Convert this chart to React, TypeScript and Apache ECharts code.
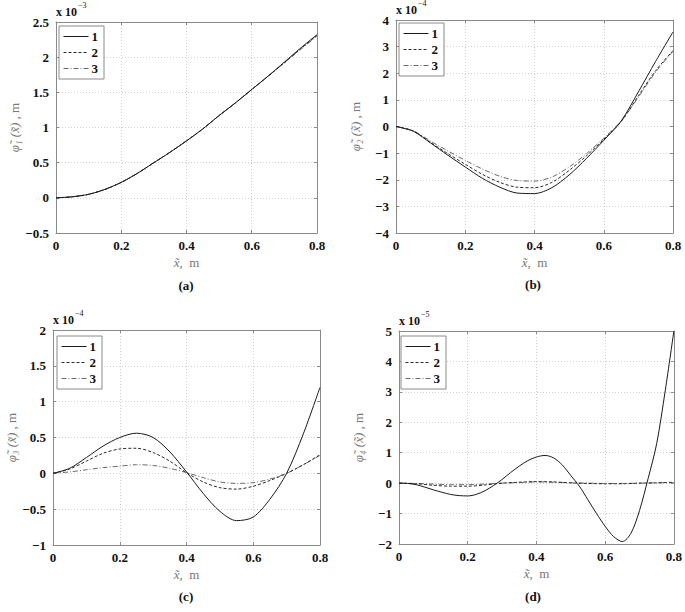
import React, { useEffect, useRef } from "react";
import * as echarts from "echarts";

const X05 = [0, 0.05, 0.1, 0.15, 0.2, 0.25, 0.3, 0.35, 0.4, 0.45, 0.5, 0.55, 0.6, 0.65, 0.7, 0.75, 0.8];
const X025 = [0, 0.025, 0.05, 0.075, 0.1, 0.125, 0.15, 0.175, 0.2, 0.225, 0.25, 0.275, 0.3, 0.325, 0.35, 0.375, 0.4, 0.425, 0.45, 0.475, 0.5, 0.525, 0.55, 0.575, 0.6, 0.625, 0.65, 0.675, 0.7, 0.725, 0.75, 0.775, 0.8];

// panel (a), x 10^-3
const A1 = [0, 0.015, 0.05, 0.12, 0.22, 0.35, 0.5, 0.65, 0.81, 0.98, 1.17, 1.35, 1.54, 1.73, 1.93, 2.13, 2.32];
const A2 = [0, 0.015, 0.05, 0.12, 0.22, 0.35, 0.5, 0.65, 0.81, 0.98, 1.17, 1.35, 1.54, 1.73, 1.92, 2.12, 2.31];
const A3 = [0, 0.015, 0.05, 0.12, 0.22, 0.35, 0.5, 0.65, 0.81, 0.98, 1.17, 1.35, 1.54, 1.73, 1.92, 2.11, 2.3];
// panel (b), x 10^-4
const B1 = [0, -0.18, -0.62, -1.08, -1.52, -1.95, -2.28, -2.5, -2.52, -2.3, -1.82, -1.2, -0.52, 0.2, 1.3, 2.45, 3.55];
const B2 = [0, -0.17, -0.6, -1.02, -1.42, -1.8, -2.1, -2.28, -2.3, -2.1, -1.65, -1.1, -0.48, 0.18, 1.15, 2.1, 2.85];
const B3 = [0, -0.16, -0.55, -0.92, -1.27, -1.6, -1.87, -2.03, -2.05, -1.9, -1.52, -1.02, -0.44, 0.2, 1.1, 2.05, 2.82];
// panel (c), x 10^-4
const C1 = [0, 0.07, 0.22, 0.38, 0.5, 0.56, 0.5, 0.3, 0.02, -0.28, -0.53, -0.66, -0.61, -0.36, 0.0, 0.55, 1.2];
const C2 = [0, 0.06, 0.17, 0.28, 0.34, 0.35, 0.29, 0.17, 0.01, -0.12, -0.2, -0.22, -0.18, -0.1, 0.0, 0.12, 0.26];
const C3 = [0, 0.02, 0.05, 0.08, 0.1, 0.12, 0.11, 0.07, 0.01, -0.06, -0.12, -0.14, -0.13, -0.08, 0.0, 0.12, 0.25];
// panel (d), x 10^-5
const D1 = [0, -0.01, -0.05, -0.13, -0.22, -0.3, -0.37, -0.41, -0.42, -0.37, -0.25, -0.08, 0.12, 0.35, 0.56, 0.74, 0.86, 0.91, 0.83, 0.6, 0.25, -0.1, -0.55, -1.0, -1.42, -1.76, -1.92, -1.65, -0.9, 0.15, 1.3, 3.05, 5.0];
const D2 = [0, -0.02, -0.07, -0.1, -0.1, -0.06, 0, 0.03, 0.05, 0.04, 0.01, -0.01, -0.02, -0.02, 0, 0.01, 0.03];
const D3 = [0, -0.01, -0.03, -0.05, -0.05, -0.03, 0, 0.02, 0.04, 0.03, 0.01, 0, -0.01, -0.01, 0, 0.01, 0.02];

const SERIES_NAMES = ["1", "2", "3"];
const X_TICKS = { min: 0, max: 0.8, interval: 0.2 };

const FONT = "Liberation Serif";

type Panel = {
  grid: { left: number; top: number; width: number; height: number };
  yMin: number;
  yMax: number;
  yInt: number;
  exp: string;
  sub: string;
  caption: string;
  captionPos: [number, number];
  legendPos: [number, number];
  data: [number[], number[]][];
};

const panels: Panel[] = [
  {
    grid: { left: 56, top: 22, width: 261, height: 211 },
    yMin: -0.5, yMax: 2.5, yInt: 0.5, exp: "−3", sub: "₁", caption: "(a)",
    captionPos: [186, 285], legendPos: [59, 26],
    data: [[X05, A1], [X05, A2], [X05, A3]],
  },
  {
    grid: { left: 396, top: 20, width: 277, height: 213 },
    yMin: -4, yMax: 4, yInt: 1, exp: "−4", sub: "₂", caption: "(b)",
    captionPos: [533, 284], legendPos: [399, 23],
    data: [[X05, B1], [X05, B2], [X05, B3]],
  },
  {
    grid: { left: 53, top: 330, width: 267, height: 215 },
    yMin: -1, yMax: 2, yInt: 0.5, exp: "−4", sub: "₃", caption: "(c)",
    captionPos: [186, 596], legendPos: [57, 336],
    data: [[X05, C1], [X05, C2], [X05, C3]],
  },
  {
    grid: { left: 399, top: 331, width: 276, height: 213 },
    yMin: -2, yMax: 5, yInt: 1, exp: "−5", sub: "₄", caption: "(d)",
    captionPos: [533, 596], legendPos: [401, 336],
    data: [[X025, D1], [X05, D2], [X05, D3]],
  },
];

const LINE_STYLES = [
  { color: "#1a1a1a", width: 1, type: "solid" as any },
  { color: "#2a2a2a", width: 1, type: [3, 2] as any },
  { color: "#6a6a6a", width: 1, type: [5, 2, 1, 2] as any },
];

const fmtNum = (v: number) => String(+v.toFixed(2)).replace("-", "−");

export default function App() {
  const ref = useRef<HTMLDivElement>(null);
  useEffect(() => {
    document.body.style.margin = "0";
    if (!ref.current) return;
    const chart = echarts.init(ref.current, null, { renderer: "svg" });

    const grids: any[] = [];
    const xAxes: any[] = [];
    const yAxes: any[] = [];
    const series: any[] = [];
    const legends: any[] = [];
    const graphics: any[] = [];

    const frame = { show: true, onZero: false, lineStyle: { color: "#8a8a8a", width: 1 } };
    const tick = { show: true, inside: true, length: 3, lineStyle: { color: "#8a8a8a" } };
    const split = { show: true, lineStyle: { color: "#d0d0d0", type: [1, 2] } };
    const lbl = { color: "#111", fontWeight: "bold", fontFamily: FONT, fontSize: 13 };

    panels.forEach((p, i) => {
      grids.push({ ...p.grid, containLabel: false });
      xAxes.push({
        gridIndex: i, type: "value", ...X_TICKS, position: "bottom",
        axisLine: frame, axisTick: tick, splitLine: split,
        axisLabel: { ...lbl, margin: 6, formatter: (v: number) => fmtNum(v) },
        name: "{i|x̃}{n|,  m}", nameLocation: "middle", nameGap: 23,
        nameTextStyle: {
          rich: {
            i: { fontFamily: FONT, fontStyle: "italic", fontSize: 13, color: "#777" },
            n: { fontFamily: FONT, fontSize: 13, color: "#777" },
          },
        },
      });
      xAxes.push({
        gridIndex: i, type: "value", ...X_TICKS, position: "top",
        axisLine: frame, axisTick: tick, splitLine: { show: false }, axisLabel: { show: false },
      });
      yAxes.push({
        gridIndex: i, type: "value", min: p.yMin, max: p.yMax, interval: p.yInt, position: "left",
        axisLine: frame, axisTick: tick, splitLine: split,
        axisLabel: { ...lbl, margin: 7, formatter: (v: number) => fmtNum(v) },
        name: `{i|φ̃${p.sub} (x̃)}{n| , m}`, nameLocation: "middle", nameGap: 34,
        nameTextStyle: {
          rich: {
            i: { fontFamily: FONT, fontStyle: "italic", fontSize: 13, color: "#777" },
            n: { fontFamily: FONT, fontSize: 13, color: "#777" },
          },
        },
      });
      yAxes.push({
        gridIndex: i, type: "value", min: p.yMin, max: p.yMax, interval: p.yInt, position: "right",
        axisLine: frame, axisTick: tick, splitLine: { show: false }, axisLabel: { show: false },
      });

      p.data.forEach(([xs, ys], k) => {
        series.push({
          type: "line",
          name: SERIES_NAMES[k],
          xAxisIndex: i * 2,
          yAxisIndex: i * 2,
          data: xs.map((x, j) => [x, ys[j]]),
          smooth: 0.3,
          symbol: "none",
          color: LINE_STYLES[k].color,
          lineStyle: LINE_STYLES[k],
          z: 10 - k,
        });
      });

      legends.push({
        left: p.legendPos[0], top: p.legendPos[1], orient: "vertical",
        data: SERIES_NAMES, itemWidth: 25, itemHeight: 14, itemGap: 3,
        padding: [4, 6, 4, 4], borderColor: "#8a8a8a", borderWidth: 1, backgroundColor: "#fff",
        itemStyle: { color: "transparent", borderWidth: 0, opacity: 0 },
        lineStyle: { width: 1 },
        textStyle: { fontFamily: FONT, fontWeight: "bold", fontSize: 13, color: "#111", padding: [0, 0, 0, -2] },
        selectedMode: false,
      });

      graphics.push({
        type: "text", left: p.grid.left, top: p.grid.top - 16,
        style: { text: "x 10", fontFamily: FONT, fontWeight: "bold", fontSize: 12, fill: "#111" },
      });
      graphics.push({
        type: "text", left: p.grid.left + 22, top: p.grid.top - 21,
        style: { text: p.exp, fontFamily: FONT, fontSize: 8, fill: "#111" },
      });
      graphics.push({
        type: "text", x: p.captionPos[0], y: p.captionPos[1],
        style: {
          text: p.caption, fontFamily: FONT, fontWeight: "bold", fontSize: 13, fill: "#111",
          textAlign: "center", textVerticalAlign: "middle",
        },
      });
    });

    chart.setOption({
      animation: false,
      backgroundColor: "#fff",
      grid: grids,
      xAxis: xAxes,
      yAxis: yAxes,
      series,
      legend: legends,
      graphic: graphics,
    });
    return () => chart.dispose();
  }, []);
  return <div ref={ref} style={{ width: 685, height: 612, position: "absolute", left: 0, top: 0 }} />;
}
